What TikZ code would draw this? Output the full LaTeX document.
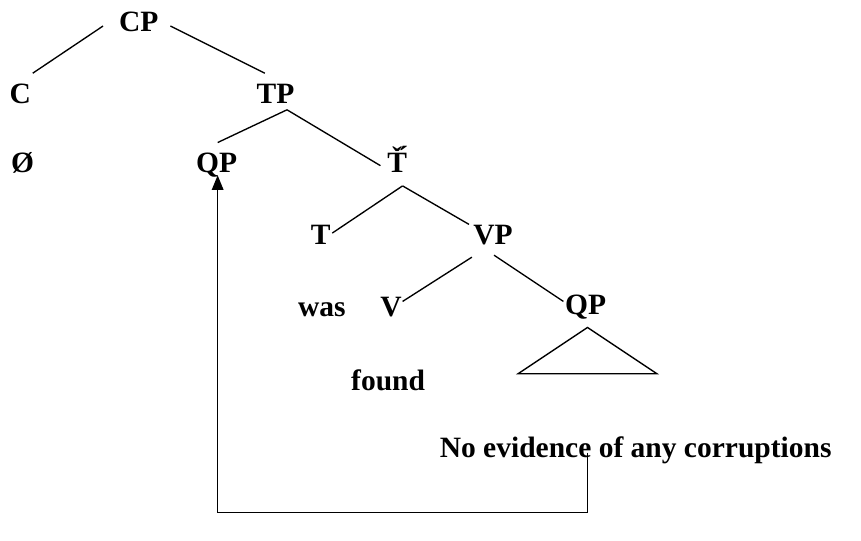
\documentclass[tikz,border=0pt]{standalone}
\usepackage{fontspec}
\setmainfont{Liberation Serif}
\usetikzlibrary{arrows.meta}
\begin{document}
\begin{tikzpicture}[x=0.9631pt,y=-0.9631pt,
  lbl/.style={inner sep=0pt,anchor=base,font=\fontsize{29.5}{32}\selectfont\bfseries},
  edge/.style={line width=1.35pt},
  move/.style={line width=1.35pt,-{Triangle[length=14.5pt,width=11.5pt]}}]
\useasboundingbox (0,0) rectangle (894,560.7);
\node[lbl] (CP) at (144,33) {CP};
\node[lbl] (C) at (21,107) {C};
\node[lbl] (TP) at (286,107) {TP};
\node[lbl] (null) at (23.5,179) {Ø};
\node[lbl] (QPa) at (225,179) {QP};
\node[lbl,anchor=base west] (Tbar) at (402,179) {Ť́};
\node[lbl] (T) at (333,254) {T};
\node[lbl] (VP) at (512,254) {VP};
\node[lbl,anchor=base east] (was) at (359,329) {was};
\node[lbl] (V) at (406,329) {V};
\node[lbl] (QPb) at (608,327) {QP};
\node[lbl] (found) at (403,405) {found};
\node[lbl] (ev) at (660,475) {No evidence of any corruptions};
\draw[edge] ([shift={(-37,-6)}]CP.base) -- ([shift={(13,-31)}]C.base);
\draw[edge] ([shift={(33,-6)}]CP.base) -- ([shift={(-11,-31)}]TP.base);
\draw[edge] ([shift={(12,7)}]TP.base) -- ([shift={(1,-31)}]QPa.base);
\draw[edge] ([shift={(12,7)}]TP.base) -- ([shift={(-7,-7)}]Tbar.base west);
\draw[edge] ([shift={(16,14)}]Tbar.base west) -- ([shift={(12,-12)}]T.base);
\draw[edge] ([shift={(16,14)}]Tbar.base west) -- ([shift={(-25,-21)}]VP.base);
\draw[edge] ([shift={(-22,13)}]VP.base) -- ([shift={(12,-16)}]V.base);
\draw[edge] ([shift={(1,11)}]VP.base) -- ([shift={(-23,-14)}]QPb.base);
\draw[edge,line join=miter] ([shift={(2,13)}]QPb.base) -- ([shift={(-70,61)}]QPb.base) -- ([shift={(74,61)}]QPb.base) -- cycle;
\draw[move] ([shift={(-50,-5)}]ev.base) -- ++(0,62) -| ([shift={(1,3)}]QPa.base);
\end{tikzpicture}
\end{document}
